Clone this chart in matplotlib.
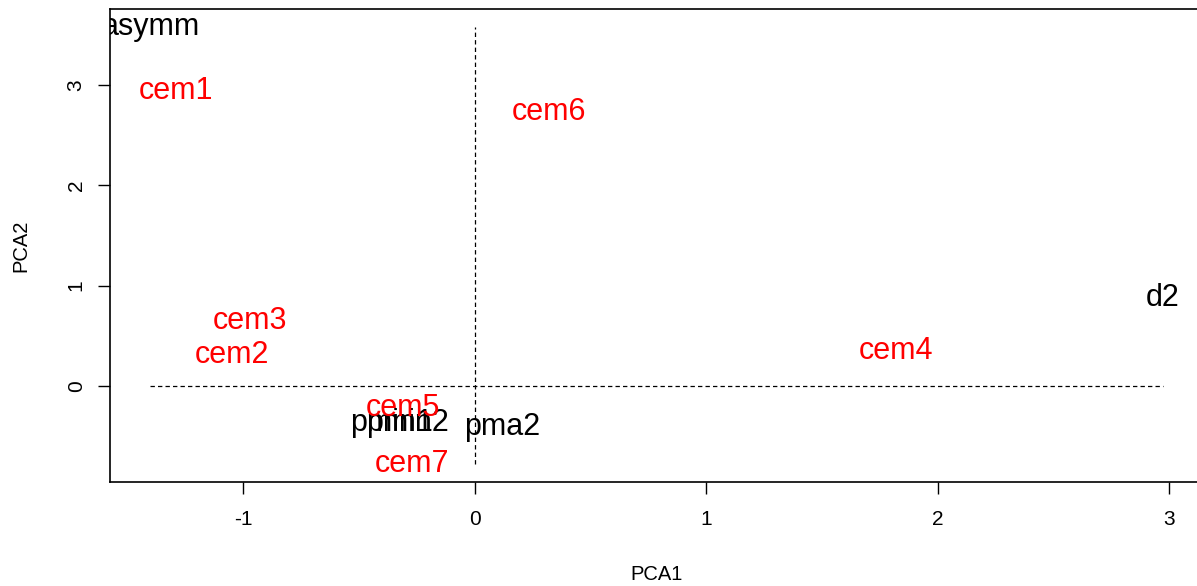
import matplotlib
matplotlib.use("Agg")
import matplotlib.pyplot as plt

plt.rcParams['font.family'] = ['Liberation Sans', 'DejaVu Sans']

# variable loadings (black) and sample scores (red)
var_names = ["asymm", "d2", "pmin1", "pmin2", "pma2"]
var_x = [-1.40, 2.97, -0.36, -0.29, 0.12]
var_y = [3.58, 0.88, -0.37, -0.37, -0.41]

cem_names = ["cem1", "cem2", "cem3", "cem4", "cem5", "cem6", "cem7"]
cem_x = [-1.29, -1.05, -0.97, 1.82, -0.31, 0.32, -0.27]
cem_y = [2.94, 0.31, 0.65, 0.35, -0.22, 2.73, -0.78]

xticks = [-1, 0, 1, 2, 3]
yticks = [0, 1, 2, 3]

W, H = 1197, 586
fig = plt.figure(figsize=(W / 100, H / 100), dpi=100)
# plot region in pixels: left 110, right 1203 (cropped), top 9, bottom 482
ax = fig.add_axes([110 / W, 1 - 482 / H, (1203 - 110) / W, (482 - 9) / H])

all_x = var_x + cem_x
all_y = var_y + cem_y
xr = max(all_x) - min(all_x)
yr = max(all_y) - min(all_y)
ax.set_xlim(min(all_x) - 0.04 * xr, max(all_x) + 0.04 * xr)
ax.set_ylim(min(all_y) - 0.04 * yr, max(all_y) + 0.04 * yr)

ax.plot([min(all_x), max(all_x)], [0, 0], color='black', lw=0.9, ls=(0, (3.5, 2.5)))
ax.plot([0, 0], [min(all_y), max(all_y)], color='black', lw=0.9, ls=(0, (3.5, 2.5)))

for name, x, y in zip(var_names, var_x, var_y):
    ax.text(x, y, name, color='black', fontsize=22, ha='center', va='center', clip_on=True)
for name, x, y in zip(cem_names, cem_x, cem_y):
    ax.text(x, y, name, color='#ff0000', fontsize=22, ha='center', va='center', clip_on=True)

ax.set_xticks(xticks)
ax.set_yticks(yticks)
ax.set_xticklabels([str(t) for t in xticks])
ax.set_yticklabels([str(t) for t in yticks], rotation=90, va='center')
ax.tick_params(direction='out', length=8.5, width=1, labelsize=15, colors='black')
ax.tick_params(axis='x', pad=12)
ax.tick_params(axis='y', pad=9)
for s in ax.spines.values():
    s.set_linewidth(1.2)

ax.set_xlabel("PCA1", fontsize=14.5)
ax.set_ylabel("PCA2", fontsize=14.5)
ax.xaxis.set_label_coords(0.5, -0.175)
ax.yaxis.set_label_coords(-0.073, 0.5)

fig.savefig("out.png", dpi=100)
